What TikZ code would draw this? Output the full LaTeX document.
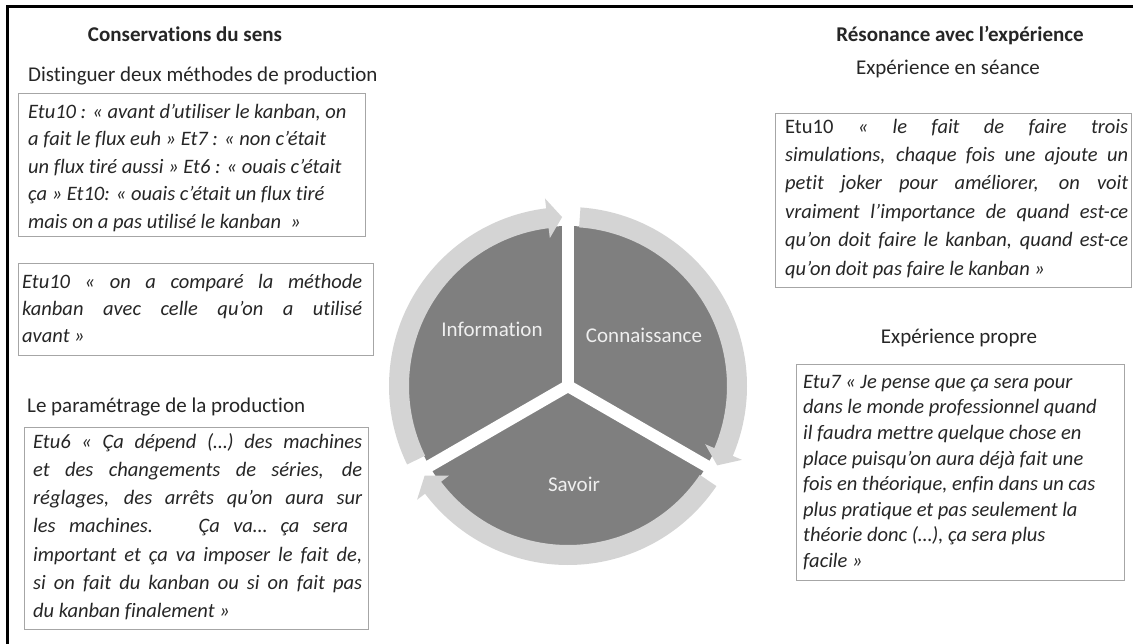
\documentclass[tikz,border=0pt]{standalone}
\usepackage{fontspec}
\setmainfont{Carlito}[Ligatures=NoCommon]
\definecolor{txt}{HTML}{262626}
\definecolor{boxc}{HTML}{A6A6A6}
\definecolor{segc}{HTML}{7F7F7F}
\definecolor{ringc}{HTML}{D4D4D4}
\definecolor{lbl}{HTML}{EFEFEF}
\newcommand\fst{\rule{0pt}{18pt}}
\newcommand\cycarrow[3]{%
  \fill[ringc] (#1:179) arc[start angle=#1, end angle=#2, radius=179]
    -- (#2:189) -- (#3:169) -- (#2:149) -- (#2:159)
    arc[start angle=#2, end angle=#1, radius=159] -- cycle;}
\tikzset{
  frame/.style={line width=3pt, draw=black},
  qbox/.style={draw=boxc, line width=1pt, anchor=north west, inner sep=0pt},
  qtext/.style={anchor=north west, inner sep=0pt, align=left, text=txt,
    font=\fontsize{20.5}{28}\selectfont\itshape},
  headtitle/.style={anchor=base, inner sep=0pt, text=txt,
    font=\fontsize{21}{25}\selectfont\bfseries},
  subtitle/.style={anchor=base, inner sep=0pt, text=txt,
    font=\fontsize{21}{25}\selectfont},
  seglabel/.style={anchor=base, inner sep=0pt, text=lbl,
    font=\fontsize{21}{25}\selectfont},
  gapline/.style={draw=white, line width=12pt},
}
\begin{document}
\begin{tikzpicture}[x=1pt,y=-1pt]
\useasboundingbox (0,0) rectangle (1133,644);
\fill[white] (0,0) rectangle (1133,644);
\draw[frame] (7,644) -- (7,7) -- (1133,7);

% headings
\node[headtitle] (h1) at (185,42) {Conservations du sens};
\node[subtitle, anchor=base west] (s1) at (28,82) {Distinguer deux méthodes de production};
\node[subtitle, anchor=base west] (s2) at (27,412) {Le paramétrage de la production};
\node[headtitle] (h2) at (960,42) {Résonance avec l’expérience};
\node[subtitle] (s3) at (948,75) {Expérience en séance};
\node[subtitle] (s4) at (959,344) {Expérience propre};

% boxes
\node[qbox, minimum width=347pt, minimum height=143pt] (b1) at (18,93) {};
\node[qbox, minimum width=355pt, minimum height=92pt] (b2) at (18,263) {};
\node[qbox, minimum width=344pt, minimum height=202pt] (b3) at (24,427) {};
\node[qbox, minimum width=356pt, minimum height=174pt] (b4) at (775,113) {};
\node[qbox, minimum width=328pt, minimum height=216pt] (b5) at (796,364) {};

\node[qtext, font=\fontsize{20.5}{27.5}\selectfont\itshape] (t1) at (28,100) {\fst Etu10 : « avant d’utiliser le kanban, on\\
a fait le flux euh » Et7 : « non c’était\\
un flux tiré aussi » Et6 : « ouais c’était\\
ça » Et10: « ouais c’était un flux tiré\\
mais on a pas utilisé le kanban \ »};

\node[qtext, font=\fontsize{20.5}{27}\selectfont\itshape] (t2) at (22,270) {\fst\makebox[340pt][s]{Etu10 « on a comparé la méthode}\\
\makebox[340pt][s]{kanban avec celle qu’on a utilisé}\\
avant »};

\node[qtext, font=\fontsize{20.5}{28.2}\selectfont\itshape] (t3) at (33,430) {\fst\makebox[329pt][s]{Etu6 « Ça dépend (…) des machines}\\
\makebox[329pt][s]{et des changements de séries, de}\\
\makebox[329pt][s]{réglages, des arrêts qu’on aura sur}\\
\makebox[315pt][s]{les machines. \ Ça va… ça sera}\\
\makebox[329pt][s]{important et ça va imposer le fait de,}\\
\makebox[329pt][s]{si on fait du kanban ou si on fait pas}\\
du kanban finalement »};

\node[qtext, font=\fontsize{20.5}{28.4}\selectfont\itshape] (t4) at (785,115) {\fst\makebox[343pt][s]{\textup{Etu10} « le fait de faire trois}\\
\makebox[343pt][s]{simulations, chaque fois une ajoute un}\\
\makebox[343pt][s]{petit joker pour améliorer, on voit}\\
\makebox[343pt][s]{vraiment l’importance de quand est-ce}\\
\makebox[343pt][s]{qu’on doit faire le kanban, quand est-ce}\\
qu’on doit pas faire le kanban »};

\node[qtext, font=\fontsize{20.5}{25.6}\selectfont\itshape] (t5) at (803,370) {\fst Etu7 « Je pense que ça sera pour\\
dans le monde professionnel quand\\
il faudra mettre quelque chose en\\
place puisqu’on aura déjà fait une\\
fois en théorique, enfin dans un cas\\
plus pratique et pas seulement la\\
théorie donc (…), ça sera plus\\
facile »};

% cycle
\begin{scope}[shift={(568,386)}, yscale=-1]
  \fill[segc] (0,0) -- (90:160) arc[start angle=90, end angle=210, radius=160] -- cycle;
  \fill[segc] (0,0) -- (-30:160) arc[start angle=-30, end angle=90, radius=160] -- cycle;
  \fill[segc] (0,0) -- (210:160) arc[start angle=210, end angle=330, radius=160] -- cycle;
  \foreach \a in {90,210,330} \draw[gapline] (0,0) -- (\a:166);
  \cycarrow{206}{97}{92}
  \cycarrow{86}{-23}{-28}
  \cycarrow{-34}{-143}{-148}
\end{scope}
\node[seglabel] (info) at (492,337) {Information};
\node[seglabel] (conn) at (644,343) {Connaissance};
\node[seglabel] (sav) at (574,491) {Savoir};
\end{tikzpicture}
\end{document}
